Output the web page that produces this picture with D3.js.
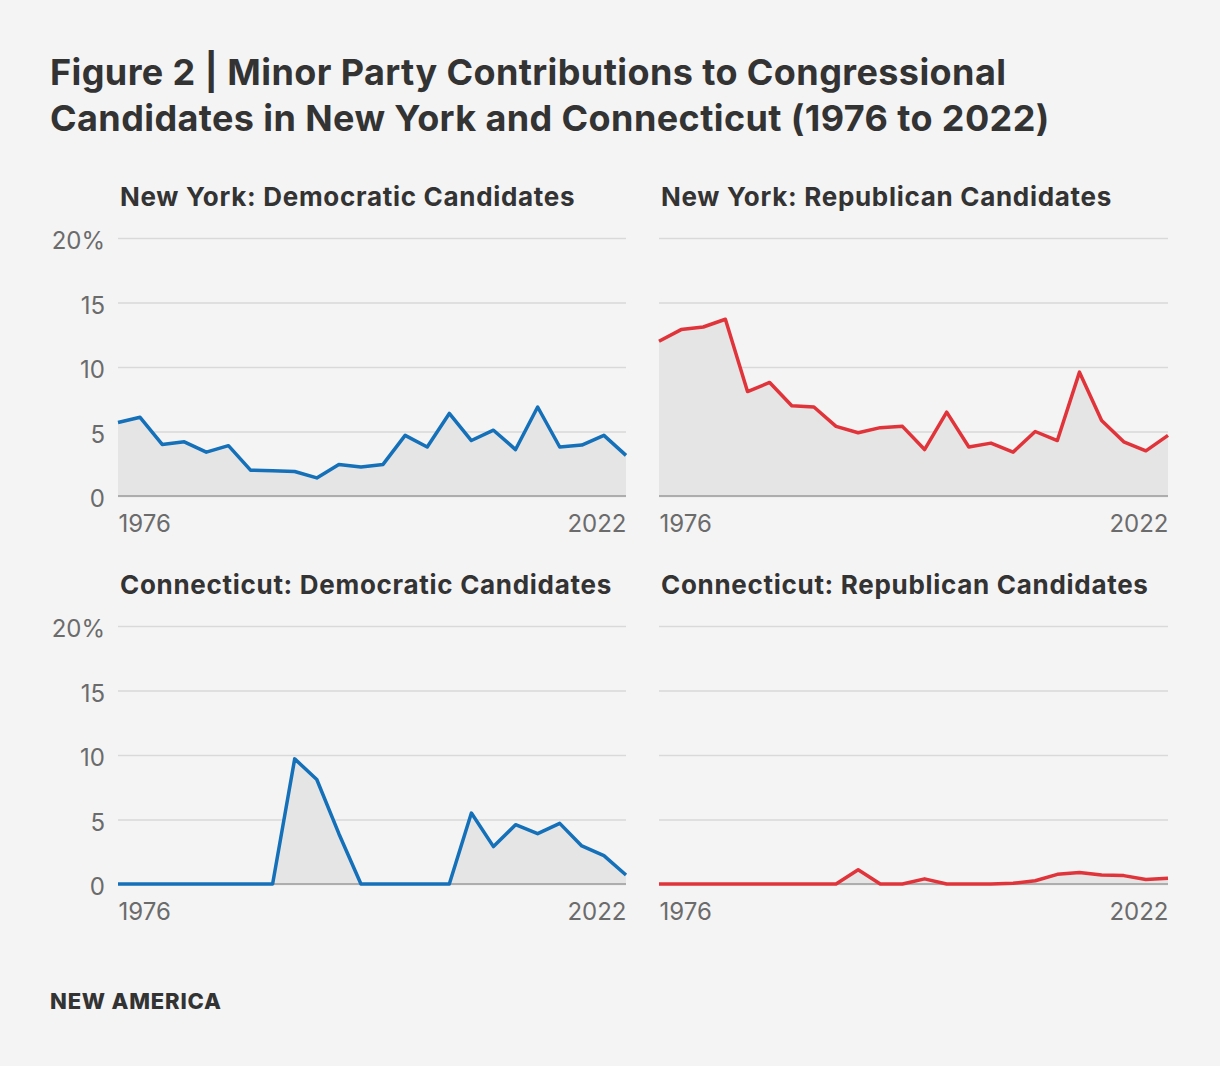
<!DOCTYPE html>
<html>
<head>
<meta charset="utf-8">
<script src="https://cdn.jsdelivr.net/npm/d3@7"></script>
<style>
  body { margin: 0; background: #f4f4f4; }
  svg { display: block; }
  text { font-family: Inter, "Open Sans", sans-serif; }
</style>
</head>
<body>
<svg id="chart" width="1220" height="1066"></svg>
<script>
// years on the x axis, every election cycle
var years = d3.range(1976, 2023, 2);

// share of contributions from minor parties, in percent
var nyDem = [5.7, 6.1, 4.0, 4.2, 3.4, 3.9, 2.0, 1.95, 1.9, 1.4, 2.45, 2.25, 2.45, 4.7, 3.8, 6.4,
             4.3, 5.1, 3.6, 6.9, 3.8, 3.95, 4.7, 3.15];
var nyRep = [12.0, 12.9, 13.1, 13.7, 8.1, 8.8, 7.0, 6.9, 5.4, 4.9, 5.3, 5.4, 3.6, 6.5, 3.8, 4.1,
             3.4, 5.0, 4.3, 9.6, 5.85, 4.2, 3.5, 4.7];
var ctDem = [0, 0, 0, 0, 0, 0, 0, 0, 9.7, 8.1, 3.9, 0, 0, 0, 0, 0,
             5.5, 2.9, 4.6, 3.9, 4.7, 2.95, 2.2, 0.7];
var ctRep = [0, 0, 0, 0, 0, 0, 0, 0, 0, 1.1, 0, 0, 0.4, 0, 0, 0,
             0.05, 0.25, 0.75, 0.9, 0.7, 0.65, 0.35, 0.45];

var yTicks = [0, 5, 10, 15, 20];
var xTicks = [1976, 2022];

var panelTitles = ["New York: Democratic Candidates", "New York: Republican Candidates",
                   "Connecticut: Democratic Candidates", "Connecticut: Republican Candidates"];

var blue = "#1470b8", red = "#e0343a";

var panels = [
  { title: panelTitles[0], values: nyDem, color: blue, col: 0, row: 0 },
  { title: panelTitles[1], values: nyRep, color: red, col: 1, row: 0 },
  { title: panelTitles[2], values: ctDem, color: blue, col: 0, row: 1 },
  { title: panelTitles[3], values: ctRep, color: red, col: 1, row: 1 }
];

var svg = d3.select("#chart");
svg.append("rect").attr("width", 1220).attr("height", 1066).attr("fill", "#f4f4f4");

// title
var title = svg.append("text")
  .attr("x", 50).attr("fill", "#333")
  .style("font-size", "36px").style("font-weight", 700).style("letter-spacing", "0.4px");
title.append("tspan").attr("x", 50).attr("y", 85)
  .text("Figure 2 | Minor Party Contributions to Congressional");
title.append("tspan").attr("x", 50).attr("y", 131)
  .text("Candidates in New York and Connecticut (1976 to 2022)");

var colX = [[118, 626], [659, 1168]];
var rowY = [[496, 238], [884, 626]];

panels.forEach(function(p) {
  var xr = colX[p.col], yr = rowY[p.row];
  var x = d3.scaleLinear().domain([1976, 2022]).range(xr);
  var y = d3.scaleLinear().domain([0, 20]).range(yr);
  var g = svg.append("g");

  g.append("text")
    .attr("x", xr[0] + 2).attr("y", yr[1] - 32)
    .attr("fill", "#333")
    .style("font-size", "26px").style("font-weight", 700).style("letter-spacing", "0.7px")
    .text(p.title);

  // gridlines
  var grid = g.append("g")
    .call(d3.axisLeft(y).tickValues(yTicks).tickSize(-(xr[1] - xr[0])).tickFormat(""));
  grid.select(".domain").remove();
  grid.selectAll(".tick line").attr("stroke", "#d9d9d9").attr("stroke-width", 1.5);
  grid.attr("transform", "translate(" + xr[0] + ",0)");

  // y labels only on left column
  if (p.col == 0) {
    var yl = g.append("g").attr("transform", "translate(" + xr[0] + ",0)")
      .call(d3.axisLeft(y).tickValues(yTicks).tickSize(0).tickPadding(13)
        .tickFormat(function(d) { return d == 20 ? "20%" : d; }));
    yl.select(".domain").remove();
    yl.selectAll("text").attr("fill", "#6b6b6b").attr("dy", "0.45em")
      .style("font-size", "24px").style("font-family", "Inter, sans-serif");
  }

  var data = years.map(function(yr_, i) { return { year: yr_, v: p.values[i] }; });

  g.append("path").datum(data)
    .attr("fill", "#e5e5e5")
    .attr("d", d3.area().x(function(d) { return x(d.year); })
      .y0(y(0)).y1(function(d) { return y(d.v); }));

  // baseline
  g.append("line")
    .attr("x1", xr[0]).attr("x2", xr[1])
    .attr("y1", y(0)).attr("y2", y(0))
    .attr("stroke", "#adadad").attr("stroke-width", 2);

  g.append("path").datum(data)
    .attr("fill", "none").attr("stroke", p.color).attr("stroke-width", 3.5)
    .attr("stroke-linejoin", "round")
    .attr("d", d3.line().x(function(d) { return x(d.year); }).y(function(d) { return y(d.v); }));

  // x labels
  var xa = g.append("g").attr("transform", "translate(0," + yr[0] + ")")
    .call(d3.axisBottom(x).tickValues(xTicks).tickSize(0).tickPadding(19).tickFormat(d3.format("d")));
  xa.select(".domain").remove();
  xa.selectAll("text").attr("fill", "#6b6b6b")
    .style("font-size", "24px").style("font-family", "Inter, sans-serif")
    .attr("text-anchor", function(d) { return d == 1976 ? "start" : "end"; });
});

svg.append("text")
  .attr("x", 50).attr("y", 1009).attr("fill", "#333")
  .style("font-size", "22px").style("font-weight", 800).style("letter-spacing", "0.8px")
  .text("NEW AMERICA");
</script>
</body>
</html>
